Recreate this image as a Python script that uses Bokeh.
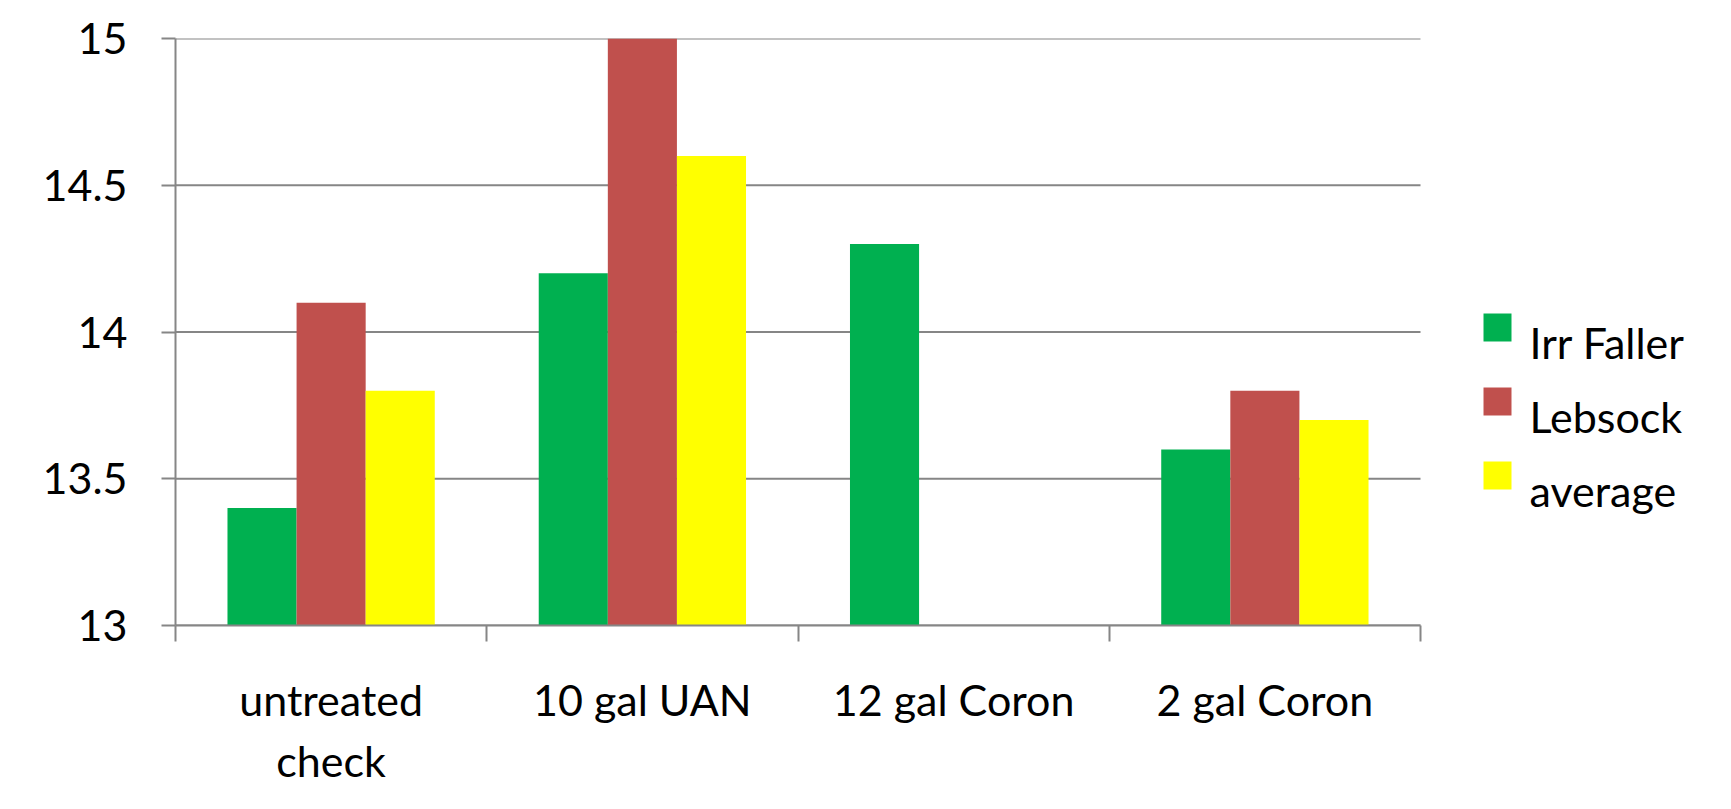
from bokeh.plotting import figure
from bokeh.layouts import column
from bokeh.models import Range1d, FixedTicker
from bokeh.core.properties import value
from bokeh.embed import file_html
from bokeh.resources import INLINE

# ---- data ----
categories = ["untreated\ncheck", "10 gal UAN", "12 gal Coron", "2 gal Coron"]
series_names = ["Irr Faller", "Lebsock", "average"]
irr_faller = [13.4, 14.2, 14.3, 13.6]
lebsock = [14.1, 15.0, float("nan"), 13.8]
average = [13.8, 14.6, float("nan"), 13.7]
series_colors = ["#00B050", "#C0504D", "#FFFF00"]
y_ticks = [13, 13.5, 14, 14.5, 15]
y_tick_labels = ["13", "13.5", "14", "14.5", "15"]

FONT = "Lato"
FS = "43px"
GRAY = "#868686"

BORDER_L, BORDER_T, BORDER_B = 183, 46, 168
PLOT_W = 1245          # pixel width of the category area
FRAME_W, FRAME_H = 1532, 587
n = len(categories)
x_end = n * FRAME_W / PLOT_W
px_x = PLOT_W / n                               # px per category
px_y = FRAME_H / (y_ticks[-1] - y_ticks[0])     # px per y unit

p = figure(
    frame_width=FRAME_W, frame_height=FRAME_H,
    x_range=Range1d(0, x_end), y_range=Range1d(y_ticks[0], y_ticks[-1]),
    output_backend="svg", toolbar_location=None,
    min_border_left=BORDER_L, min_border_right=0, min_border_top=BORDER_T,
    min_border_bottom=BORDER_B,
)
p.outline_line_color = None
p.background_fill_color = "white"
p.border_fill_color = "white"

# horizontal gridlines only over the category area
p.xgrid.grid_line_color = None
p.ygrid.grid_line_color = None
p.segment(x0=[0] * len(y_ticks), x1=[n] * len(y_ticks), y0=y_ticks, y1=y_ticks,
          line_color=GRAY, line_width=2)

bar_w = 0.222
series = [irr_faller, lebsock, average]
for k, (vals, col) in enumerate(zip(series, series_colors)):
    xs = [i + 0.5 + (k - 1) * bar_w for i in range(n)]
    p.vbar(x=xs, top=vals, bottom=y_ticks[0], width=bar_w,
           fill_color=col, line_color=None)

# x axis: labels at centers, ticks at category boundaries (minor ticks)
xa = p.xaxis[0]
centers = [i + 0.5 for i in range(n)]
xa.bounds = (0, n)
xa.ticker = FixedTicker(ticks=centers, minor_ticks=list(range(n + 1)))
xa.major_label_overrides = {c: lab for c, lab in zip(centers, categories)}
xa.major_tick_out = 0
xa.major_tick_in = 0
xa.minor_tick_out = 16
xa.minor_tick_in = 0
xa.minor_tick_line_color = GRAY
xa.minor_tick_line_width = 2
xa.axis_line_color = GRAY
xa.axis_line_width = 2
xa.major_label_text_font = FONT
xa.major_label_text_font_size = FS
xa.major_label_text_color = "black"
xa.major_label_standoff = 32

ya = p.yaxis[0]
ya.ticker = FixedTicker(ticks=y_ticks)
ya.major_label_overrides = {t: s for t, s in zip(y_ticks, y_tick_labels)}
ya.major_tick_out = 14
ya.major_tick_in = 0
ya.major_tick_line_color = GRAY
ya.major_tick_line_width = 2
ya.minor_tick_line_color = None
ya.axis_line_color = GRAY
ya.axis_line_width = 2
ya.major_label_text_font = FONT
ya.major_label_text_font_size = FS
ya.major_label_text_color = "black"
ya.major_label_standoff = 34

# ---- legend, drawn inside the frame to the right of the categories ----
sq = 28
leg_dx = 77          # px from end of category area to square centre
leg_top = 289        # px from frame top to first square centre
leg_pitch = 74
leg_x = [n + leg_dx / px_x] * len(series_names)
leg_y = [y_ticks[-1] - (leg_top + i * leg_pitch) / px_y for i in range(len(series_names))]
p.rect(x=leg_x, y=leg_y, width=sq, height=sq, width_units="screen", height_units="screen",
       fill_color=series_colors, line_color=None)
p.text(x=leg_x, y=leg_y, text=series_names, x_offset=sq / 2 + 18, y_offset=15,
       text_font=value(FONT), text_font_size=FS, text_color="black",
       text_baseline="alphabetic", text_align="left")

layout = column(p, styles={"margin-top": "-8px", "margin-left": "-8px"})

open("out.html", "w").write(file_html(layout, INLINE))
